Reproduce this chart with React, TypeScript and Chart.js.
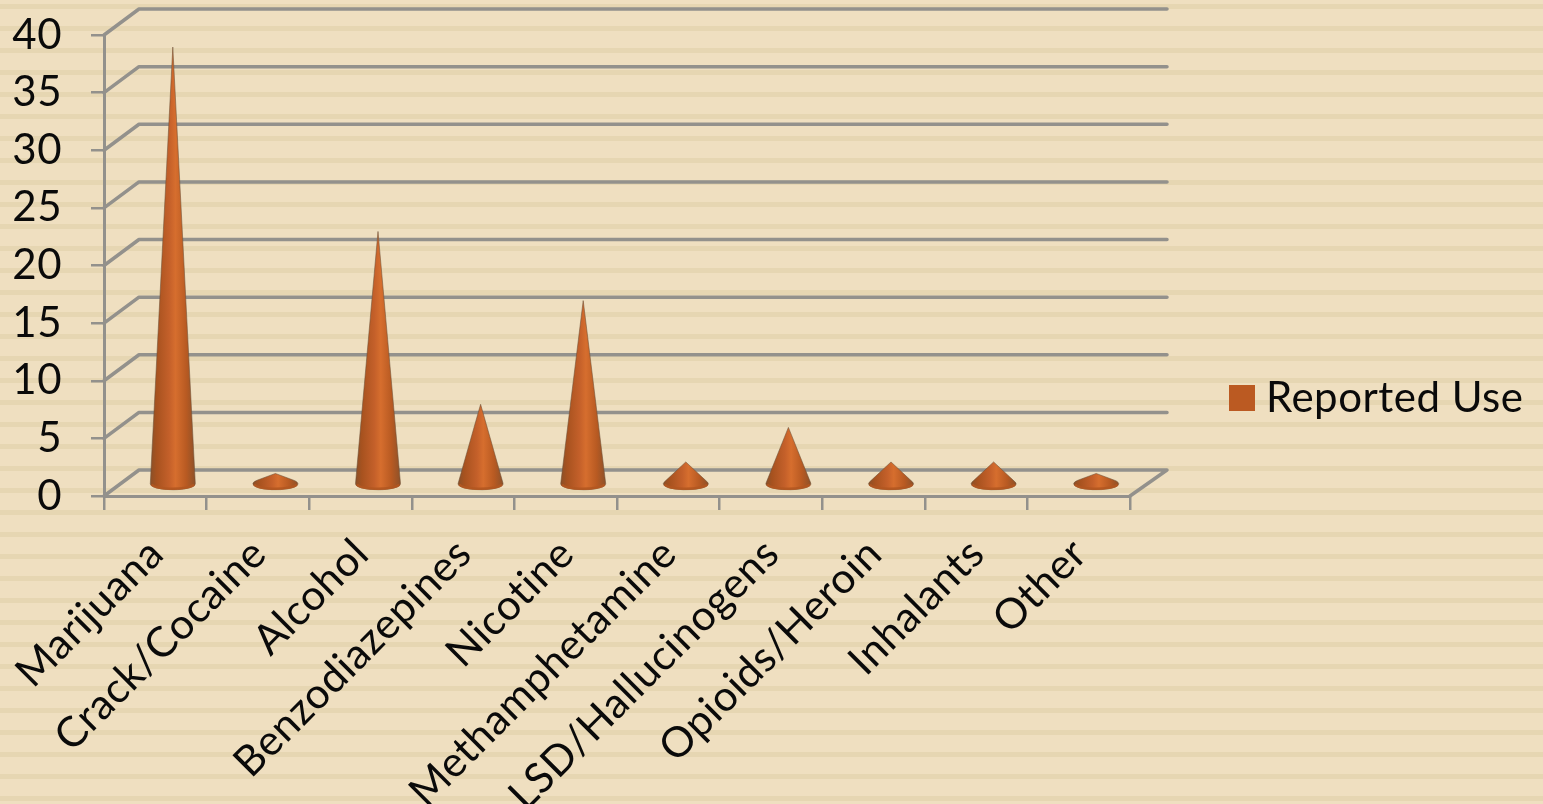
import React, { useEffect, useRef } from "react";
import { Chart, BarController, BarElement, registerables } from "chart.js";

const categories = [
  "Marijuana",
  "Crack/Cocaine",
  "Alcohol",
  "Benzodiazepines",
  "Nicotine",
  "Methamphetamine",
  "LSD/Hallucinogens",
  "Opioids/Heroin",
  "Inhalants",
  "Other",
];
const reportedUse = [38, 1, 22, 7, 16, 2, 5, 2, 2, 1];
const seriesName = "Reported Use";
const valueTicks = [0, 5, 10, 15, 20, 25, 30, 35, 40];

const FONT_FAMILY = "Lato, sans-serif";
const INK = "#0a0a0a";
const FRAME = "#93918c";
const SERIES_COLOR = "#BB5A22";
const DEPTH_X = 35;
const DEPTH_Y = 26;

// Bar element drawn as a cone standing on the floor of the pseudo-3D frame.
class ConeElement extends BarElement {
  static id = "cone";
  draw(ctx: CanvasRenderingContext2D) {
    const { x, y, base } = (this as any).getProps(["x", "y", "base"]);
    const cx = x + DEPTH_X / 2;
    const cy = base - 11;
    const rx = 22.5;
    const ry = 6;
    const h = cy - (y - 11);
    const tangentY = (ry * ry) / h;
    const tangentX = rx * Math.sqrt(Math.max(0, 1 - (ry * ry) / (h * h)));
    const startAngle = Math.asin(Math.min(1, tangentY / ry));

    const shade = ctx.createLinearGradient(cx - rx, 0, cx + rx, 0);
    shade.addColorStop(0, "#8a5028");
    shade.addColorStop(0.14, "#a7521f");
    shade.addColorStop(0.42, "#c4602a");
    shade.addColorStop(0.56, "#d66e2e");
    shade.addColorStop(0.8, "#b85a22");
    shade.addColorStop(1, "#8d5129");

    ctx.save();
    ctx.beginPath();
    ctx.moveTo(cx, cy - h);
    ctx.lineTo(cx + tangentX, cy - tangentY);
    ctx.ellipse(cx, cy, rx, ry, 0, -startAngle, Math.PI + startAngle);
    ctx.closePath();
    ctx.fillStyle = shade;
    ctx.fill();
    ctx.lineWidth = 1;
    ctx.strokeStyle = "rgba(110,80,55,0.55)";
    ctx.stroke();

    // Rim of the base, a little darker than the body.
    ctx.beginPath();
    ctx.ellipse(cx, cy, rx - 1, ry - 1, 0, 0.15, Math.PI - 0.15);
    ctx.lineWidth = 2.5;
    ctx.strokeStyle = "rgba(178,86,32,0.9)";
    ctx.stroke();
    ctx.restore();
  }
}

class ConeController extends BarController {
  static id = "cone";
  static defaults = { ...(BarController as any).defaults, dataElementType: "cone" };
  static overrides = (BarController as any).overrides;
}

Chart.register(...registerables, ConeElement as any, ConeController as any);

// Back wall and floor lines, stepped back from the value axis by the chart depth.
const backWall = {
  id: "backWall",
  beforeDatasetsDraw(chart: any) {
    const { ctx, scales } = chart;
    const yScale = scales.y;
    const xScale = scales.x;
    ctx.save();
    ctx.strokeStyle = FRAME;
    ctx.lineWidth = 3.5;
    ctx.lineJoin = "round";
    ctx.lineCap = "round";
    valueTicks.forEach((v) => {
      const py = yScale.getPixelForValue(v);
      ctx.beginPath();
      ctx.moveTo(xScale.left, py);
      ctx.lineTo(xScale.left + DEPTH_X, py - DEPTH_Y);
      ctx.lineTo(xScale.right + DEPTH_X + 2, py - DEPTH_Y);
      if (v === 0) ctx.lineTo(xScale.right, py);
      ctx.stroke();
    });
    ctx.restore();
  },
};

// The legend sits beside the plot, level with the lower part of the value axis.
const legendPlacement = {
  id: "legendPlacement",
  afterLayout(chart: any) {
    const legend = chart.legend;
    legend.left = 1229;
    legend.right = 1543;
    legend.top = 363;
    legend.bottom = 433;
  },
};

// Slightly open tracking for all chart text.
const textTracking = {
  id: "textTracking",
  beforeDraw(chart: any) {
    chart.ctx.letterSpacing = "0.5px";
  },
};

function makeLegendSwatch() {
  const swatch = document.createElement("canvas");
  swatch.width = 26;
  swatch.height = 26;
  const c = swatch.getContext("2d")!;
  c.fillStyle = SERIES_COLOR;
  c.fillRect(0, 0, 26, 26);
  return swatch;
}

export default function App() {
  const ref = useRef<HTMLCanvasElement>(null);

  useEffect(() => {
    const swatch = makeLegendSwatch();
    const chart = new Chart(ref.current!, {
      type: "cone" as any,
      data: {
        labels: categories,
        datasets: [
          {
            label: seriesName,
            data: reportedUse,
            backgroundColor: SERIES_COLOR,
            clip: false,
          } as any,
        ],
      },
      plugins: [textTracking, backWall, legendPlacement],
      options: {
        animation: false,
        responsive: false,
        layout: { padding: { top: 35, right: 413, left: 0, bottom: 0 } },
        plugins: {
          tooltip: { enabled: false },
          legend: {
            position: "chartArea" as any,
            labels: {
              usePointStyle: true,
              pointStyleWidth: 6,
              boxHeight: 26,
              color: INK,
              font: { family: FONT_FAMILY, size: 42 },
              generateLabels(c: any) {
                return Chart.defaults.plugins.legend.labels
                  .generateLabels(c)
                  .map((item: any) => ({ ...item, pointStyle: swatch }));
              },
            },
          },
        },
        scales: {
          x: {
            offset: true,
            afterFit(axis: any) {
              axis.height = 308;
              axis.paddingLeft = 0;
              axis.paddingRight = 0;
            },
            border: { display: true, color: FRAME, width: 3 },
            grid: {
              offset: true,
              drawOnChartArea: false,
              color: FRAME,
              lineWidth: 2.5,
              tickLength: 14,
            },
            ticks: {
              autoSkip: false,
              minRotation: 45,
              maxRotation: 45,
              color: INK,
              padding: 19,
              labelOffset: 1,
              font: { family: FONT_FAMILY, size: 42 },
            },
          },
          y: {
            min: 0,
            max: 40,
            afterFit(axis: any) {
              axis.width = 104;
              axis.paddingTop = 0;
              axis.paddingBottom = 0;
            },
            afterBuildTicks(axis: any) {
              axis.ticks = valueTicks.map((value) => ({ value }));
            },
            border: { display: true, color: FRAME, width: 3 },
            grid: {
              drawOnChartArea: false,
              color: FRAME,
              lineWidth: 2.5,
              tickLength: 13,
            },
            ticks: {
              color: INK,
              padding: 29,
              font: { family: FONT_FAMILY, size: 42 },
            },
          },
        },
      } as any,
    });
    return () => chart.destroy();
  }, []);

  return (
    <div
      style={{
        position: "fixed",
        left: 0,
        top: 0,
        width: 1543,
        height: 804,
        background:
          "repeating-linear-gradient(to bottom, #efdfc0 0px, #efdfc0 4px, #e6d6b2 4px, #e6d6b2 9px, #efdfc0 9px, #efdfc0 22px)",
      }}
    >
      <canvas ref={ref} width={1543} height={804} style={{ display: "block" }} />
    </div>
  );
}
